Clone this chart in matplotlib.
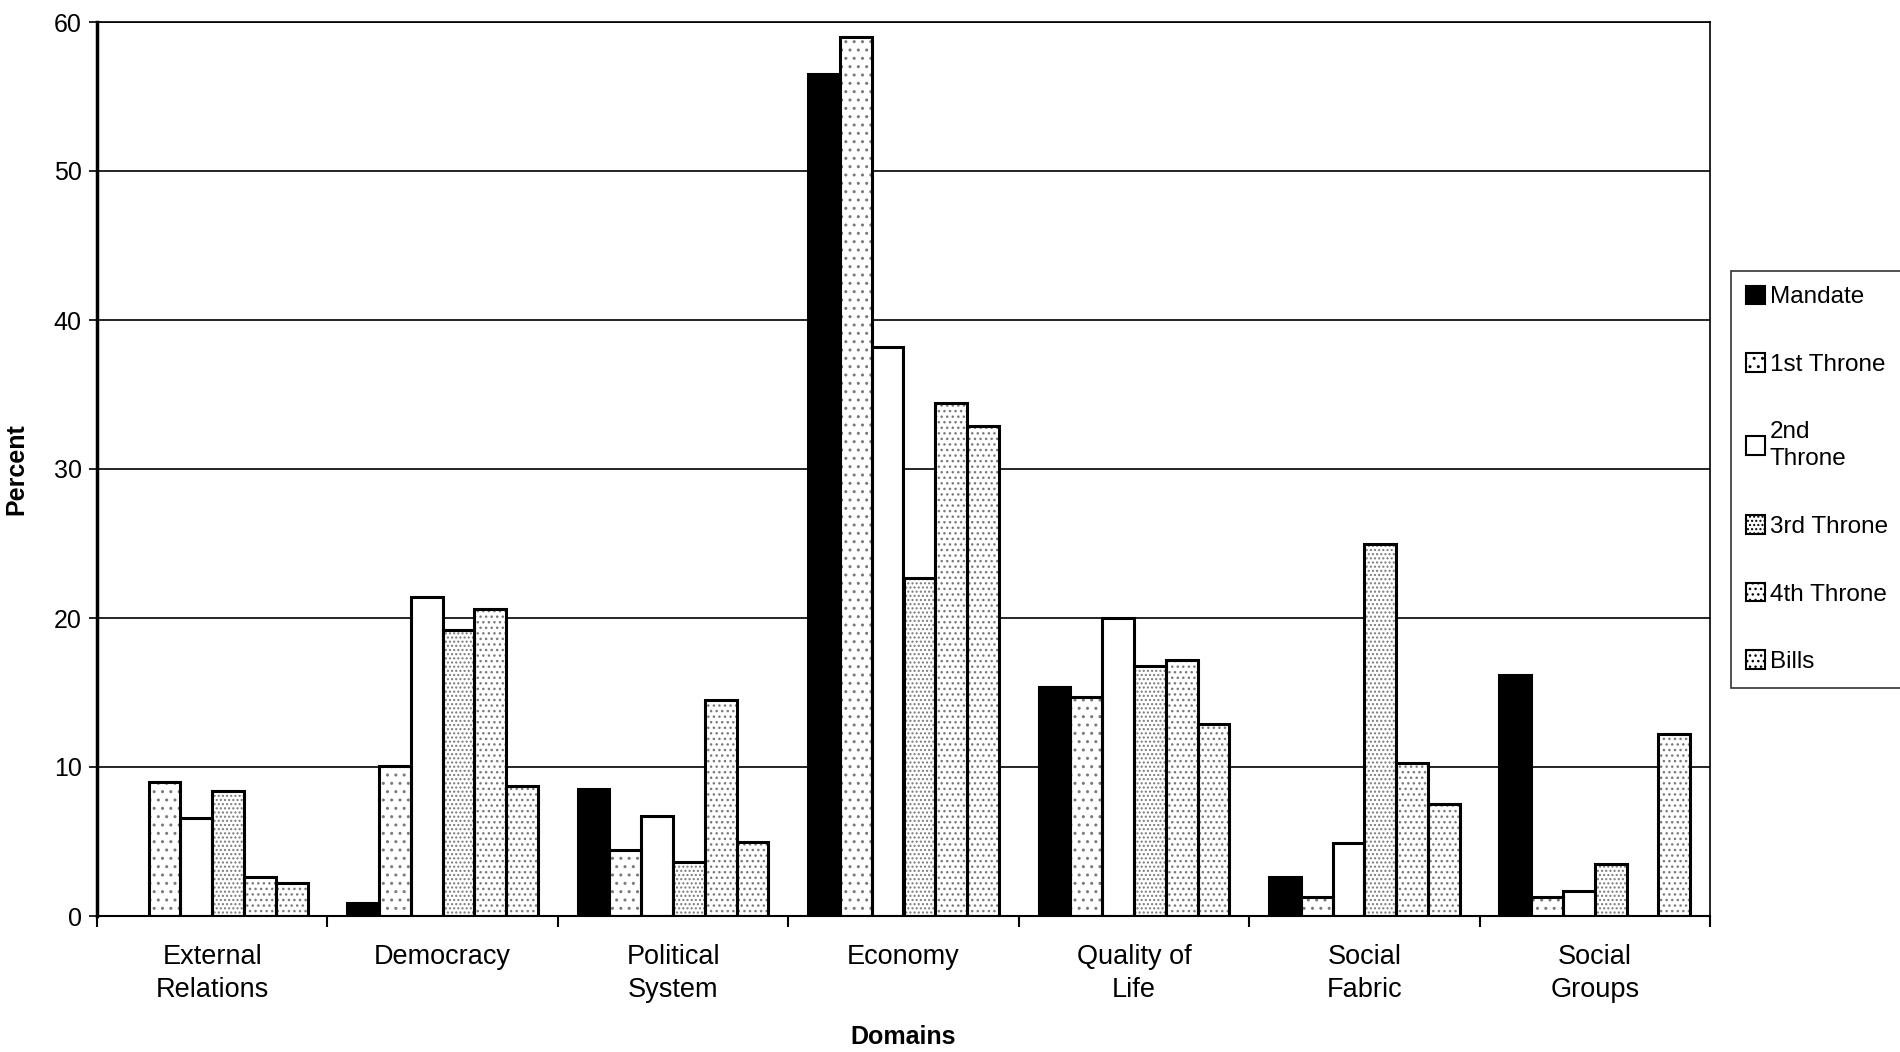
import numpy as np
import matplotlib
matplotlib.use('Agg')
import matplotlib.pyplot as plt
from matplotlib.patches import Patch

plt.rcParams['font.family'] = ['Liberation Sans', 'DejaVu Sans']
plt.rcParams['hatch.linewidth'] = 1.0

domains = ['External\nRelations', 'Democracy', 'Political\nSystem', 'Economy',
           'Quality of\nLife', 'Social\nFabric', 'Social\nGroups']
series = ['Mandate', '1st Throne', '2nd\nThrone', '3rd Throne', '4th Throne', 'Bills']

mandate = [0.0, 0.9, 8.5, 56.5, 15.4, 2.6, 16.2]
throne1 = [9.0, 10.1, 4.4, 59.0, 14.7, 1.3, 1.3]
throne2 = [6.6, 21.4, 6.7, 38.2, 20.0, 4.9, 1.7]
throne3 = [8.4, 19.2, 3.6, 22.7, 16.8, 25.0, 3.5]
throne4 = [2.6, 20.6, 14.5, 34.4, 17.2, 10.3, 0.0]
bills = [2.2, 8.7, 5.0, 32.9, 12.9, 7.5, 12.2]

values = [mandate, throne1, throne2, throne3, throne4, bills]
# face colour and dot pattern for each series
faces = ['black', 'white', 'white', 'white', 'white', 'white']
hatches = [None, '..', None, '....', '...', '...']

fig = plt.figure(figsize=(19, 10.52), dpi=100)
ax = fig.add_axes([97 / 1900, 1 - 916 / 1052, (1710 - 97) / 1900, (916 - 22) / 1052])

x = np.arange(len(domains))
width = 0.138
offsets = (np.arange(len(series)) - (len(series) - 1) / 2) * width

for vals, off, fc, h in zip(values, offsets, faces, hatches):
    vals = np.array(vals)
    keep = vals > 0
    # stipple underneath, black outline on top
    ax.bar(x[keep] + off, vals[keep], width, color=fc, edgecolor='#7a7a7a',
           linewidth=0, hatch=h, zorder=2)
    ax.bar(x[keep] + off, vals[keep], width, facecolor='none', edgecolor='black',
           linewidth=2.2, zorder=3)

ax.set_xlim(-0.5, len(domains) - 0.5)
ax.set_ylim(0, 60)
ax.set_yticks(np.arange(0, 61, 10))
ax.yaxis.grid(True, color='black', linewidth=1.2, zorder=0)
ax.set_axisbelow(True)

ax.set_xticks(x)
ax.set_xticklabels(domains, fontsize=19.5, linespacing=1.35, va='top')
ax.set_xticks(np.arange(-0.5, len(domains)), minor=True)
ax.tick_params(axis='x', which='major', length=0, pad=20)
ax.tick_params(axis='x', which='minor', length=8, width=1.5, direction='out')
ax.tick_params(axis='y', labelsize=18, length=6, width=1.2, pad=5)

for side in ['top', 'right']:
    ax.spines[side].set_linewidth(1.2)
ax.spines['left'].set_linewidth(2.5)
ax.spines['bottom'].set_linewidth(1.5)

ax.set_ylabel('Percent', fontsize=18, fontweight='bold', labelpad=18)
ax.set_xlabel('Domains', fontsize=18, fontweight='bold', labelpad=16)

handles = [Patch(facecolor=fc, edgecolor='black', hatch=h, linewidth=1.5)
           for fc, h in zip(faces, hatches)]
leg = fig.legend(handles, series, loc='upper left',
                 bbox_to_anchor=(1731 / 1900, 1 - 271 / 1052), fontsize=17.5,
                 frameon=True, fancybox=False, edgecolor='black',
                 handlelength=0.8, handleheight=0.8, handletextpad=0.2,
                 labelspacing=1.85, borderpad=0.6, borderaxespad=0)
leg.get_frame().set_linewidth(1.2)
for t in leg.get_texts():
    t.set_linespacing(1.3)

fig.savefig('out.png', dpi=100)
